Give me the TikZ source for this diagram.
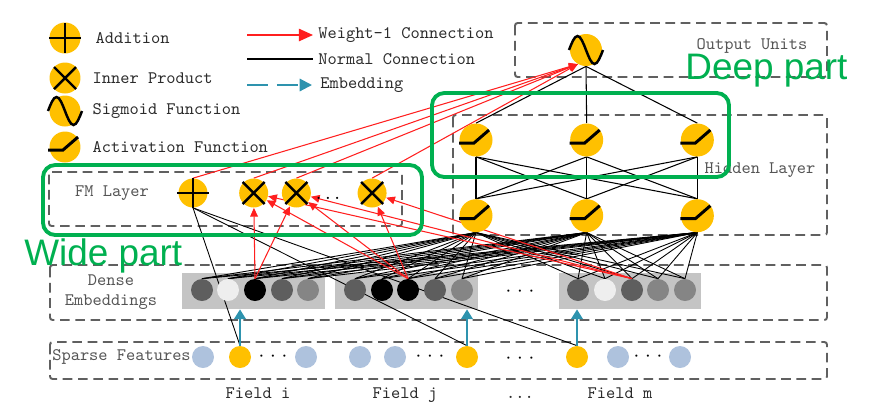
\documentclass[tikz,border=0pt]{standalone}
\usepackage{fontspec}
\setsansfont{Liberation Sans}
\usepackage{tikz}
\usetikzlibrary{positioning, arrows.meta, calc}
\usepackage{xcolor}
\definecolor{dfmYellow}{HTML}{FFC000}
\definecolor{dfmGreen}{HTML}{00B050}
\definecolor{dfmRed}{HTML}{FF1F1F}
\definecolor{dfmBlue}{HTML}{2E93AE}
\definecolor{dfmSparse}{HTML}{AEC2DD}
\definecolor{dfmBlock}{HTML}{C4C4C4}
\definecolor{dfmDash}{HTML}{606060}
\definecolor{dfmInk}{HTML}{2B2B2B}
\definecolor{dfmLabel}{HTML}{555555}
\definecolor{dfmDark}{HTML}{5E5E5E}
\definecolor{dfmMid}{HTML}{858585}
\definecolor{dfmLight}{HTML}{EEEEEE}
\pgfdeclarelayer{bg}
\pgfdeclarelayer{edges}
\pgfsetlayers{bg,edges,main}
\newcommand{\middots}{·\kern1.3pt·\kern1.3pt·}

\begin{document}
\begin{tikzpicture}[
        x=0.02cm, y=-0.02cm,
        font=\fontsize{10}{11.4}\selectfont\ttfamily,
        unit/.style={circle, fill=dfmYellow, inner sep=0pt, minimum size=0.62cm},
        fmunit/.style={unit, minimum size=0.58cm},
        hidunit/.style={unit, minimum size=0.66cm},
        emb/.style={circle, inner sep=0pt, minimum size=0.44cm},
        sparse/.style={circle, inner sep=0pt, minimum size=0.44cm},
        block/.style={rectangle, fill=dfmBlock, inner sep=0pt, minimum width=2.86cm, minimum height=0.72cm},
        frame/.style={draw=dfmDash, line width=1.1pt, dash pattern=on 5.5pt off 3.2pt, rounded corners=1.5pt},
        greenframe/.style={draw=dfmGreen, line width=2.2pt, rounded corners=7pt},
        legendtxt/.style={anchor=west, inner sep=0pt, text=dfmInk},
        layertxt/.style={inner sep=0pt, text=dfmLabel},
        fieldtxt/.style={inner sep=0pt, anchor=base, text=dfmInk},
        parttxt/.style={inner sep=0pt, anchor=base west, text=dfmGreen, font=\sffamily\fontsize{21}{24}\selectfont},
        weight/.style={-{Triangle[length=5pt, width=4.4pt]}, draw=dfmRed, line width=0.6pt},
        normal/.style={draw=black, line width=0.5pt},
        embed/.style={-{Triangle[length=5.5pt, width=6.5pt]}, draw=dfmBlue, line width=1.2pt},
        symline/.style={line width=1.4pt},
        pics/plussign/.style={code={\draw[symline] (-16,0) -- (16,0) (0,-15) -- (0,15);}},
        pics/crosssign/.style={code={\draw[symline] (-11,-11) -- (11,11) (-11,11) -- (11,-11);}},
        pics/sinesign/.style={code={\draw[symline] (-17,0) sin (-8.5,-14) cos (0,0) sin (8.5,14) cos (17,0);}},
        pics/relusign/.style={code={\draw[symline, line width=1.7pt] (-17,3) -- (-2,3) -- (13,-10);}}
      ]
      \useasboundingbox (0,0) rectangle (882,414);

      % --- LEGEND ---
      \node[unit] (lgAdd) at (65,38) {};
      \pic at (lgAdd) {plussign};
      \node[legendtxt, right=0.29cm of lgAdd] (lgAddTxt) {Addition};
      \node[unit] (lgInner) at (65,78) {};
      \pic at (lgInner) {crosssign};
      \node[legendtxt, right=0.23cm of lgInner] (lgInnerTxt) {Inner Product};
      \node[unit] (lgSig) at (65,111) {};
      \pic at (lgSig) {sinesign};
      \node[legendtxt, right=0.23cm of lgSig] (lgSigTxt) {Sigmoid Function};
      \node[unit] (lgAct) at (65,147) {};
      \pic at (lgAct) {relusign};
      \node[legendtxt, right=0.23cm of lgAct] (lgActTxt) {Activation Function};

      \coordinate (lgW1a) at (247,35);
      \coordinate (lgW1b) at (313,35);
      \coordinate (lgNa) at (247,59);
      \coordinate (lgNb) at (313,59);
      \coordinate (lgEa) at (247,85);
      \coordinate (lgEb) at (312,85);
      \draw[weight, line width=0.9pt, -{Triangle[length=8pt, width=7pt]}] (lgW1a) -- (lgW1b);
      \draw[normal, line width=0.9pt] (lgNa) -- (lgNb);
      \draw[embed, dash pattern=on 12pt off 5pt, -{Triangle[length=7pt, width=7pt]}] (lgEa) -- (lgEb);
      \node[legendtxt, right=0.1cm of lgW1b] (lgW1Txt) {Weight-1 Connection};
      \node[legendtxt, right=0.1cm of lgNb] (lgNTxt) {Normal Connection};
      \node[legendtxt, right=0.16cm of lgEb] (lgETxt) {Embedding};

      % --- OUTPUT ---
      \node[unit, minimum size=0.64cm] (out) at (586,50) {};
      \pic at (out) {sinesign};
      \node[layertxt] (outTxt) at (752,46) {Output Units};

      % --- HIDDEN LAYER ---
      \node[hidunit] (up1) at (476,140) {};
      \node[hidunit, right=1.54cm of up1] (up2) {};
      \node[hidunit, right=1.54cm of up2] (up3) {};
      \node[hidunit, below=0.84cm of up1] (lo1) {};
      \node[hidunit, below=0.84cm of up2] (lo2) {};
      \node[hidunit, below=0.84cm of up3] (lo3) {};
      \foreach \h in {up1,up2,up3,lo1,lo2,lo3}
        \pic at (\h) {relusign};
      \node[layertxt] (hidTxt) at (760,170) {Hidden Layer};

      % --- FM LAYER ---
      \node[fmunit] (fmadd) at (193,193) {};
      \node[fmunit, right=0.62cm of fmadd] (ip1) {};
      \node[fmunit, right=0.26cm of ip1] (ip2) {};
      \node[fmunit, right=0.92cm of ip2] (ip3) {};
      \pic at (fmadd) {plussign};
      \foreach \p in {ip1,ip2,ip3}
        \pic at (\p) {crosssign};
      \node[inner sep=0pt, anchor=base] (ipDots) at (328,199) {...};
      \node[layertxt] (fmTxt) at (112,193) {FM Layer};

      % --- DENSE EMBEDDINGS ---
      \begin{pgfonlayer}{bg}
        \node[block] (blk1) at (253.5,291) {};
        \node[block] (blk2) at (406.5,291) {};
        \node[block] (blk3) at (630,291) {};
        \draw[frame] (515,23) rectangle (827,77);
        \draw[frame] (453,115) rectangle (827,235);
        \draw[frame] (49,172) rectangle (402,226);
        \draw[frame] (50,265) rectangle (827,320);
        \draw[frame] (50,342) rectangle (827,379);
      \end{pgfonlayer}
      \foreach \nm/\px/\tone in {e1/202/dfmDark, e2/228/dfmLight, e3/255/black, e4/282/dfmDark, e5/308/dfmMid,
                                 e6/355/dfmDark, e7/382/black, e8/408/black, e9/435/dfmDark, e10/462/dfmMid,
                                 e11/578/dfmDark, e12/605/dfmLight, e13/632/dfmDark, e14/658/dfmMid, e15/685/dfmMid}
        \node[emb, fill=\tone] (\nm) at (\px,290) {};
      \node[inner sep=0pt] (embDots) at (520,293) {\middots};
      \node[layertxt, align=center] (embTxt) at (111,292) {Dense\\Embeddings};

      % --- SPARSE FEATURES ---
      \foreach \nm/\px/\tone in {s1/203/dfmSparse, s2/240/dfmYellow, s3/306/dfmSparse, s4/360/dfmSparse, s5/395/dfmSparse,
                                 s6/467/dfmYellow, s7/577/dfmYellow, s8/618/dfmSparse, s9/680/dfmSparse}
        \node[sparse, fill=\tone] (\nm) at (\px,357) {};
      \node[inner sep=0pt] (spDots1) at (273,358) {\middots};
      \node[inner sep=0pt] (spDots2) at (430,358) {\middots};
      \node[inner sep=0pt] (spDots3) at (520,360) {\middots};
      \node[inner sep=0pt] (spDots4) at (648,358) {\middots};
      \node[layertxt, anchor=west] (spTxt) at (52,357) {Sparse Features};
      \node[fieldtxt] (fldI) at (258,398) {Field i};
      \node[fieldtxt] (fldJ) at (405,398) {Field j};
      \node[fieldtxt] (fldDots) at (520,398) {...};
      \node[fieldtxt] (fldM) at (620,398) {Field m};

      % --- CONNECTIONS ---
      \begin{pgfonlayer}{edges}
        \foreach \i in {1,...,15}
          \foreach \h in {lo1,lo2,lo3}
            \draw[normal] (e\i.north) -- (\h.south);
        \foreach \u in {up1,up2,up3}
          \foreach \l in {lo1,lo2,lo3}
            \draw[normal, line width=0.6pt] (\u.south) -- (\l.north);
        \foreach \u in {up1,up2,up3}
          \draw[normal, line width=0.6pt] (out.south) -- (\u.north);
        \foreach \s in {s2,s6,s7}
          \draw[normal] (fmadd.south) -- (\s.north);
        \draw[weight] (e3.north) -- (ip1);
        \draw[weight] (e3.north) -- (ip2);
        \draw[weight] (e8.north) -- (ip1);
        \draw[weight] (e8.north) -- (ip2);
        \draw[weight] (e8.north) -- (ip3);
        \draw[weight] (e13.north) -- (ip1);
        \draw[weight] (e13.north) -- (ip2);
        \draw[weight] (e13.north) -- (ip3);
        \foreach \f in {fmadd,ip1,ip2,ip3}
          \draw[weight] (\f.north) -- (out.240);
        \draw[embed] (s2.north) -- (s2.north |- blk1.south);
        \draw[embed] (s6.north) -- (s6.north |- blk2.south);
        \draw[embed] (s7.north) -- (s7.north |- blk3.south);
      \end{pgfonlayer}

      % --- WIDE / DEEP ---
      \draw[greenframe] (43,165) rectangle (422,235);
      \draw[greenframe] (432,93) rectangle (729,177);
      \node[parttxt] (wideTxt) at (24,265) {Wide part};
      \node[parttxt] (deepTxt) at (685,79) {Deep part};

    \end{tikzpicture}
\end{document}
